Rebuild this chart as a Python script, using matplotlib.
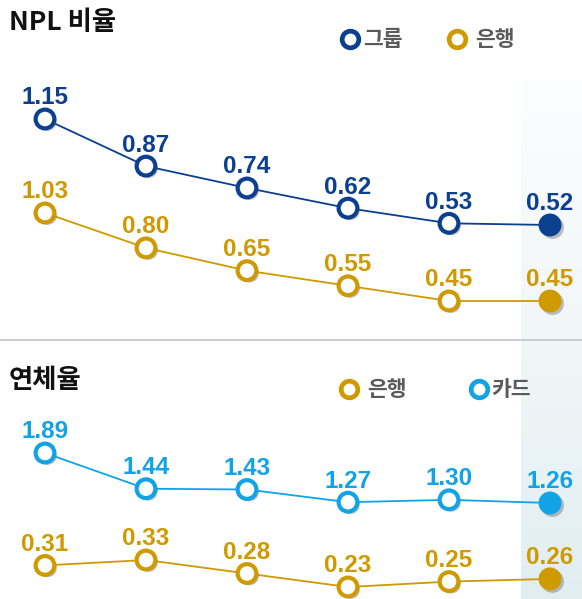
import numpy as np
import matplotlib
matplotlib.use("Agg")
import matplotlib.pyplot as plt
from matplotlib import patheffects as pe
from matplotlib.colors import LinearSegmentedColormap

# ---------------- data ----------------
periods = ["P1", "P2", "P3", "P4", "P5", "P6"]
npl_title = "NPL 비율"
npl_group = [1.15, 0.87, 0.74, 0.62, 0.53, 0.52]
npl_bank = [1.03, 0.80, 0.65, 0.55, 0.45, 0.45]
delinq_title = "연체율"
delinq_card = [1.89, 1.44, 1.43, 1.27, 1.30, 1.26]
delinq_bank = [0.31, 0.33, 0.28, 0.23, 0.25, 0.26]
label_group = "그룹"
label_bank = "은행"
label_card = "카드"

# ---------------- style ----------------
W, H = 582, 599
DPI = 100
C_GROUP = "#0b3f8f"
C_BANK = "#cf9a00"
C_CARD = "#12a3e6"
C_LEG = "#5a5a5a"
KFONT = ["Noto Sans CJK KR", "DejaVu Sans"]
NFONT = ["Liberation Sans Narrow", "Liberation Sans", "DejaVu Sans"]

fig = plt.figure(figsize=(W / DPI, H / DPI), dpi=DPI)
fig.patch.set_facecolor("white")

# shaded last column (gradient)
top_px = 80
bg = fig.add_axes([521 / W, 0, 61 / W, 1 - top_px / H], zorder=0)
cmap = LinearSegmentedColormap.from_list(
    "g", [(0, "#fcfdfe"), ((340 - top_px) / (H - top_px), "#f1f6f8"), (1, "#e1eef1")])
grad = np.linspace(0, 1, 256).reshape(-1, 1)
bg.imshow(grad, aspect="auto", cmap=cmap, origin="upper", extent=[0, 1, 0, 1])
bg.set_axis_off()

# separator line
fig.add_artist(plt.Line2D([0, 1], [1 - 340 / H, 1 - 340 / H], color="#c8c8c8", lw=1.3,
                          transform=fig.transFigure, zorder=1))

xs = np.arange(len(periods))


def series_axes(v_hi, p_hi, v_lo, p_lo):
    ax = fig.add_axes([0, 0, 1, 1], zorder=2)
    ax.patch.set_alpha(0)
    ax.set_axis_off()
    # x mapping: index 0 -> px 45, step 101 px
    ax.set_xlim(-45 / 101, (W - 45) / 101)
    b = (p_lo - p_hi) / (v_hi - v_lo)
    a = p_hi + v_hi * b
    ax.set_ylim((a - H) / b, a / b)
    return ax


shadow = [pe.SimplePatchShadow(offset=(1.8, -1.8), shadow_rgbFace="#707070", alpha=0.45),
          pe.Normal()]


def draw_series(ax, vals, color):
    ax.plot(xs, vals, color=color, lw=1.3, zorder=2)
    ax.plot(xs[:-1], vals[:-1], ls="none", marker="o", ms=13.5, mew=3.0,
            mfc="white", mec=color, zorder=3, path_effects=shadow)
    ax.plot(xs[-1:], vals[-1:], ls="none", marker="o", ms=16.5, mew=0,
            mfc=color, zorder=3, path_effects=shadow)
    for x, v in zip(xs, vals):
        ax.annotate(f"{v:.2f}", (x, v), xytext=(0, 10.5), textcoords="offset points",
                    ha="center", va="baseline", color=color, fontsize=17.5,
                    fontweight="bold", family=NFONT)


ax1 = series_axes(1.15, 119, 0.52, 225)
draw_series(ax1, npl_group, C_GROUP)
ax2 = series_axes(1.03, 213, 0.45, 301)
draw_series(ax2, npl_bank, C_BANK)
ax3 = series_axes(1.89, 453, 1.26, 503)
draw_series(ax3, delinq_card, C_CARD)
ax4 = series_axes(0.33, 560, 0.23, 587)
draw_series(ax4, delinq_bank, C_BANK)


def fig_text(px, py, s, **kw):
    fig.text(px / W, 1 - py / H, s, **kw)


def legend_item(px, py, color, label, gap):
    fig.add_artist(plt.Line2D([px / W], [1 - py / H], ls="none", marker="o", ms=12,
                              mew=3.4, mfc="white", mec=color, transform=fig.transFigure,
                              zorder=5))
    fig_text(px + gap, py, label, ha="left", va="center", color=C_LEG, fontsize=15.5,
             fontweight="bold", family=KFONT)


fig_text(9, 23, npl_title, ha="left", va="center", fontsize=19, fontweight="bold",
         color="#111111", family=KFONT)
legend_item(350, 39, C_GROUP, label_group, 13)
legend_item(457, 39, C_BANK, label_bank, 18)

fig_text(9, 381, delinq_title, ha="left", va="center", fontsize=19, fontweight="bold",
         color="#111111", family=KFONT)
legend_item(349, 389, C_BANK, label_bank, 18)
legend_item(479, 389, C_CARD, label_card, 12)

fig.savefig("out.png", dpi=DPI, facecolor="white")
